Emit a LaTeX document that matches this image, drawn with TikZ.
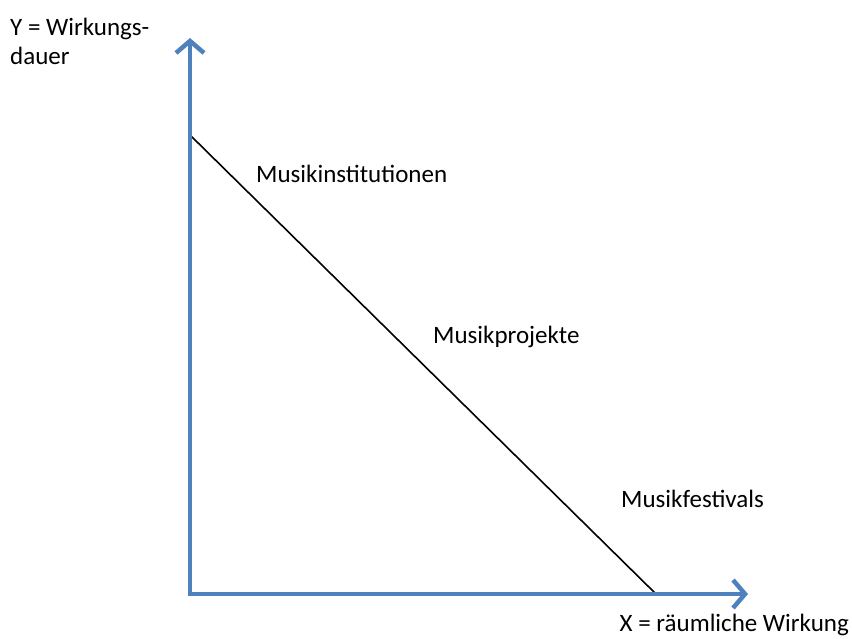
\documentclass[tikz,border=0pt]{standalone}
\usepackage{fontspec}
\setmainfont{Carlito}
\usetikzlibrary{arrows.meta}
\definecolor{axisblue}{RGB}{79,129,189}
\tikzset{
  axis/.style={draw=axisblue, line width=4.5pt, -{Straight Barb[length=12pt,width=28pt]}},
  diag/.style={draw=black, line width=1.6pt},
  lbl/.style={inner sep=0pt, font=\fontsize{25}{29}\selectfont, text=black}
}
\begin{document}
\begin{tikzpicture}[x=1pt,y=-1pt]
\useasboundingbox (0,0) rectangle (852,638);
\coordinate (O) at (190,594);
\coordinate (ytip) at (190,38);
\coordinate (xtip) at (748,594);
\coordinate (dstart) at (190,135);
\coordinate (dend) at (656,594);
\draw[diag] (dstart) -- (dend);
\draw[axis] ([yshift=2.25pt]O) -- (ytip);
\draw[axis] ([xshift=-2.25pt]O) -- (xtip);
\node[lbl, anchor=north west, align=left] (ylab) at (10,18) {Y = Wirkungs-\\dauer};
\node[lbl, anchor=base east] (xlab) at (849,631) {X = räumliche Wirkung};
\node[lbl, anchor=base west] (inst) at (256,182) {Musikinstitutionen};
\node[lbl, anchor=base west] (proj) at (433,343) {Musikprojekte};
\node[lbl, anchor=base west] (fest) at (621,507) {Musikfestivals};
\end{tikzpicture}
\end{document}
